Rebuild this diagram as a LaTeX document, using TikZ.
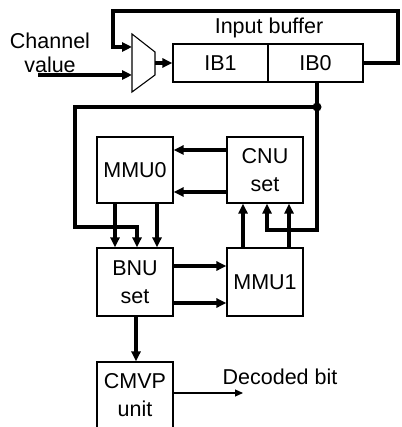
\documentclass[tikz,border=0pt]{standalone}
\usepackage{fontspec}
\setmainfont{Liberation Sans}
\usetikzlibrary{arrows.meta,calc}
\begin{document}
\begin{tikzpicture}[x=1pt,y=-1pt,
  box/.style={draw,line width=1.1pt,minimum width=76pt,minimum height=66pt,inner sep=0pt,align=center,font=\fontsize{21.5}{28}\selectfont},
  ibbox/.style={draw,line width=1.1pt,minimum width=95pt,minimum height=38pt,inner sep=0pt,font=\fontsize{21.5}{24}\selectfont},
  lbl/.style={font=\fontsize{21.5}{24}\selectfont,inner sep=0pt,align=center},
  arr/.style={line width=3.2pt,-{Triangle[length=10pt,width=9pt]}},
  thin/.style={line width=1.1pt,-{Triangle[length=8pt,width=7pt]}},
  wire/.style={line width=3.2pt}]
\useasboundingbox (0,0) rectangle (401,427);
% input buffer
\node[ibbox] (IB1) at (220.5,63) {IB1};
\node[ibbox] (IB0) at (315.5,63) {IB0};
\node[lbl] (ibl) at (269,28) {Input buffer};
% mux
\coordinate (mtl) at (132,34);
\coordinate (mbl) at (132,92);
\coordinate (mtr) at (155,52);
\coordinate (mbr) at (155,75);
\draw[line width=1.1pt] (mtl) -- (mtr) -- (mbr) -- (mbl) -- cycle;
\coordinate (min1) at (132,47);
\coordinate (min2) at (132,75);
\coordinate (mout) at (155,63);
\node[lbl] (chv) at (50,53) {Channel\\value};
\coordinate (chs) at (38,75);
% boxes
\node[box] (MMU0) at (135,170) {MMU0};
\node[box] (CNU) at (265,170) {CNU\\set};
\node[box,minimum height=68pt] (BNU) at (135,282) {BNU\\set};
\node[box,minimum height=68pt] (MMU1) at (265,282) {MMU1};
\node[box] (CMVP) at (135,395) {CMVP\\unit};
\node[lbl] (dec) at (280,377) {Decoded bit};
\coordinate (decend) at (243,393);
% feedback loop
\draw[arr] (IB0.east) -- (398,63) -- (398,11) -- (113,11) -- (113,47) -- (min1);
\draw[arr] (chs) -- (min2);
\draw[arr] (mout) -- (IB1.west);
% junction
\coordinate (J) at (317,107);
\draw[wire] (317,0 |- IB0.south) -- (J);
\fill (J) circle (4.5pt);
\draw[arr] (J) -- (317,230) -- (267,230) -- (267,0 |- CNU.south);
\draw[arr] (J) -- (75,107) -- (75,227) -- (137,227) -- (137,0 |- BNU.north);
% CNU -> MMU0
\draw[arr] (CNU.west |- 0,150) -- (MMU0.east |- 0,150);
\draw[arr] (CNU.west |- 0,192) -- (MMU0.east |- 0,192);
% MMU0 -> BNU
\draw[arr] (115,0 |- MMU0.south) -- (115,0 |- BNU.north);
\draw[arr] (157,0 |- MMU0.south) -- (157,0 |- BNU.north);
% BNU -> MMU1
\draw[arr] (BNU.east |- 0,266) -- (MMU1.west |- 0,266);
\draw[arr] (BNU.east |- 0,303) -- (MMU1.west |- 0,303);
% MMU1 -> CNU
\draw[arr] (243,0 |- MMU1.north) -- (243,0 |- CNU.south);
\draw[arr] (289,0 |- MMU1.north) -- (289,0 |- CNU.south);
% BNU -> CMVP
\draw[arr] (136,0 |- BNU.south) -- (136,0 |- CMVP.north);
% output
\draw[thin] (CMVP.east |- 0,393) -- (decend);
\end{tikzpicture}
\end{document}
